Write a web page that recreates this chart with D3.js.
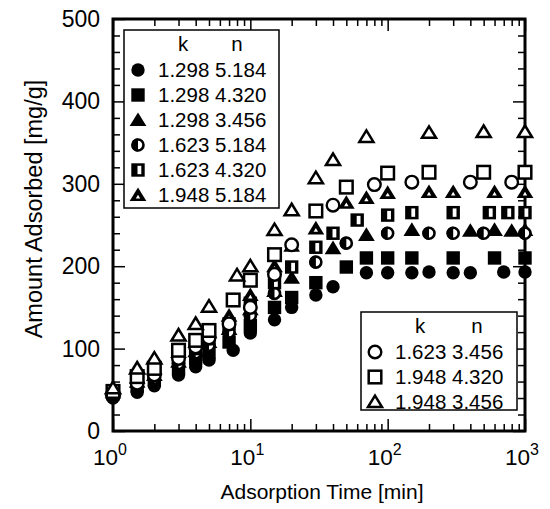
<!DOCTYPE html>
<html>
<head>
<meta charset="utf-8">
<script src="https://cdn.jsdelivr.net/npm/d3@7"></script>
<style>
  body { margin: 0; background: #fff; }
  text { font-family: "Liberation Sans", Arial, Helvetica, sans-serif; fill: #000; }
</style>
</head>
<body>
<div id="chart"></div>
<script>
// Adsorption kinetics - amount adsorbed vs time, 9 (k, n) combinations

// [time (min), amount (mg/g)] per series
const s1 = [[1,40],[1.5,47],[2,55],[3,68],[4,78],[5,86],[7.5,98],[10,119],[15,135],[20,150],[30,165],[40,175],[70,192],[100,192],[150,192],[200,193],[300,192],[400,192],[700,193],[1000,193]];
const s2 = [[1,45],[1.5,55],[2,62],[3,76],[4,88],[5,95],[7,108],[10,128],[15,150],[20,162],[30,180],[50,199],[70,210],[100,210],[150,210],[300,210],[600,210],[1000,210]];
const s3 = [[1,48],[1.5,60],[2,68],[3,84],[4,97],[5,108],[7,124],[10,148],[15,170],[20,186],[40,222],[70,238],[150,244],[400,243],[600,244],[800,243],[1000,244]];
const s4 = [[1,42],[1.5,55],[2,64],[3,82],[4,95],[5,104],[7,120],[10,140],[15,167],[30,205],[50,228],[100,240],[200,240],[300,240],[500,240],[1000,240]];
const s5 = [[1,46],[1.5,60],[2,70],[3,88],[4,100],[5,112],[7,130],[10,155],[15,180],[20,199],[30,223],[40,240],[60,256],[100,262],[150,265],[300,265],[550,265],[750,265],[1000,265]];
const s6 = [[1,50],[1.5,65],[2,76],[3,96],[4,108],[5,120],[7,140],[10,165],[15,200],[20,225],[30,246],[50,277],[70,283],[100,289],[200,290],[300,290],[600,290],[1000,290]];
const s7 = [[1,45],[1.5,58],[2,68],[3,88],[4,102],[5,113],[7,130],[10,150],[15,190],[20,226],[40,274],[80,299],[150,302],[400,302],[800,302]];
const s8 = [[1,48],[1.5,66],[2,76],[3,98],[4,110],[5,122],[7.5,159],[10,183],[15,214],[30,267],[50,296],[100,313],[200,314],[500,314],[1000,314]];
const s9 = [[1,52],[1.5,76],[2,88],[3,116],[4,130],[5,151],[8,189],[10,200],[15,244],[20,268],[30,307],[40,329],[70,357],[200,362],[500,363],[1000,363]];

const seriesData = [s1, s2, s3, s4, s5, s6, s7, s8, s9];
const markers = ["circle", "square", "triangle", "halfCircle", "halfSquare", "thickTriangle", "openCircle", "openSquare", "openTriangle"];
const kValues = ["1.298", "1.298", "1.298", "1.623", "1.623", "1.948", "1.623", "1.948", "1.948"];
const nValues = ["5.184", "4.320", "3.456", "5.184", "4.320", "5.184", "3.456", "4.320", "3.456"];

const yTicks = [0, 100, 200, 300, 400, 500];
const xTicks = [1, 10, 100, 1000];
const xExponents = ["0", "1", "2", "3"];

const width = 550, height = 509;
const plot = { left: 113, right: 525, top: 19, bottom: 431 };

const svg = d3.select("#chart").append("svg")
  .attr("width", width)
  .attr("height", height);

const x = d3.scaleLog().domain([1, 1000]).range([plot.left, plot.right]);
const y = d3.scaleLinear().domain([0, 500]).range([plot.bottom, plot.top]);

// minor tick values
const yMinor = d3.range(0, 501, 20).filter(v => v % 100 !== 0);
const xMinor = [];
[1, 10, 100].forEach(d => d3.range(2, 10).forEach(m => xMinor.push(d * m)));

function cleanAxis(g) {
  g.select(".domain").remove();
  g.selectAll("line").attr("stroke", "#000").attr("stroke-width", 1.5);
}

// ticks, all pointing inward
svg.append("g").attr("transform", `translate(${plot.left},0)`)
  .call(d3.axisLeft(y).tickValues(yTicks).tickSize(-12).tickFormat("")).call(cleanAxis);
svg.append("g").attr("transform", `translate(${plot.left},0)`)
  .call(d3.axisLeft(y).tickValues(yMinor).tickSize(-7).tickFormat("")).call(cleanAxis);
svg.append("g").attr("transform", `translate(${plot.right},0)`)
  .call(d3.axisRight(y).tickValues(yTicks).tickSize(-12).tickFormat("")).call(cleanAxis);
svg.append("g").attr("transform", `translate(${plot.right},0)`)
  .call(d3.axisRight(y).tickValues(yMinor).tickSize(-7).tickFormat("")).call(cleanAxis);
svg.append("g").attr("transform", `translate(0,${plot.bottom})`)
  .call(d3.axisBottom(x).tickValues(xTicks).tickSize(-12).tickFormat("")).call(cleanAxis);
svg.append("g").attr("transform", `translate(0,${plot.bottom})`)
  .call(d3.axisBottom(x).tickValues(xMinor).tickSize(-7).tickFormat("")).call(cleanAxis);
svg.append("g").attr("transform", `translate(0,${plot.top})`)
  .call(d3.axisTop(x).tickValues(xTicks).tickSize(-12).tickFormat("")).call(cleanAxis);
svg.append("g").attr("transform", `translate(0,${plot.top})`)
  .call(d3.axisTop(x).tickValues(xMinor).tickSize(-7).tickFormat("")).call(cleanAxis);

// frame
svg.append("rect")
  .attr("x", plot.left).attr("y", plot.top)
  .attr("width", plot.right - plot.left).attr("height", plot.bottom - plot.top)
  .attr("fill", "none").attr("stroke", "#000").attr("stroke-width", 3);

// tick labels
svg.append("g").selectAll("text")
  .data(yTicks)
  .join("text")
  .attr("x", plot.left - 13)
  .attr("y", d => y(d) + 8)
  .attr("text-anchor", "end")
  .style("font-size", "23px")
  .text(d => d);

const xl = svg.append("g").selectAll("text")
  .data(xTicks)
  .join("text")
  .attr("x", d => x(d) - 3)
  .attr("y", 465)
  .attr("text-anchor", "middle")
  .style("font-size", "22.5px");
xl.append("tspan").text("10");
xl.append("tspan").attr("dy", -10).style("font-size", "16px").text((d, i) => xExponents[i]);

// axis titles
svg.append("text")
  .attr("x", (plot.left + plot.right) / 2 + 3)
  .attr("y", 499)
  .attr("text-anchor", "middle")
  .style("font-size", "21px")
  .text("Adsorption Time [min]");

svg.append("text")
  .attr("transform", "translate(42,209) rotate(-90)")
  .attr("text-anchor", "middle")
  .style("font-size", "23.5px")
  .text("Amount Adsorbed [mg/g]");

// marker drawing
function drawMarker(g, kind) {
  const r = 6.7, s = 6.7;
  const tri = (h) => `M0,${-h} L${h * 1.1},${h * 0.8} L${-h * 1.1},${h * 0.8} Z`;
  switch (kind) {
    case "circle":
      g.append("circle").attr("r", r).attr("fill", "#000");
      break;
    case "square":
      g.append("rect").attr("x", -s).attr("y", -s).attr("width", 2 * s).attr("height", 2 * s).attr("fill", "#000");
      break;
    case "triangle":
      g.append("path").attr("d", tri(7.6)).attr("fill", "#000");
      break;
    case "halfCircle":
      g.append("circle").attr("r", r - 1.2).attr("fill", "#fff").attr("stroke", "#000").attr("stroke-width", 2.6);
      g.append("path").attr("d", d3.arc()({ innerRadius: 0, outerRadius: r, startAngle: Math.PI, endAngle: 2 * Math.PI })).attr("fill", "#000");
      break;
    case "halfSquare":
      g.append("rect").attr("x", -s).attr("y", -s).attr("width", 2 * s).attr("height", 2 * s).attr("fill", "#000");
      g.append("rect").attr("x", -0.5).attr("y", -4.2).attr("width", 3.8).attr("height", 8.4).attr("fill", "#fff");
      break;
    case "thickTriangle":
      g.append("path").attr("d", tri(7.6)).attr("fill", "#000");
      g.append("path").attr("d", tri(2.0)).attr("transform", "translate(0,1.8)").attr("fill", "#fff");
      break;
    case "openCircle":
      g.append("circle").attr("r", 6.3).attr("fill", "#fff").attr("stroke", "#000").attr("stroke-width", 2.4);
      break;
    case "openSquare":
      g.append("rect").attr("x", -6.3).attr("y", -6.3).attr("width", 12.6).attr("height", 12.6)
        .attr("fill", "#fff").attr("stroke", "#000").attr("stroke-width", 2.5);
      break;
    case "openTriangle":
      g.append("path").attr("d", tri(6.4)).attr("fill", "#fff").attr("stroke", "#000").attr("stroke-width", 2.5);
      break;
  }
}

// data points
seriesData.forEach((data, i) => {
  svg.append("g").selectAll("g")
    .data(data)
    .join("g")
    .attr("transform", d => `translate(${x(d[0])},${y(d[1])})`)
    .each(function () { drawMarker(d3.select(this), markers[i]); });
});

// legends
function legend(ix, box, hx) {
  const g = svg.append("g");
  g.append("rect")
    .attr("x", box.x).attr("y", box.y).attr("width", box.w).attr("height", box.h)
    .attr("fill", "#fff").attr("stroke", "#000").attr("stroke-width", 1.5);
  g.append("text").attr("x", hx[0]).attr("y", box.y + 21).attr("text-anchor", "middle").style("font-size", "20.5px").text("k");
  g.append("text").attr("x", hx[1]).attr("y", box.y + 21).attr("text-anchor", "middle").style("font-size", "20.5px").text("n");
  ix.forEach((si, j) => {
    const cy = box.y + 40 + j * 25;
    const mg = g.append("g").attr("transform", `translate(${box.x + 14},${cy})`);
    drawMarker(mg, markers[si]);
    g.append("text")
      .attr("x", box.x + 34).attr("y", cy + 7)
      .style("font-size", "20.5px")
      .text(`${kValues[si]} ${nValues[si]}`);
  });
}

legend([0, 1, 2, 3, 4, 5], { x: 124, y: 30, w: 155, h: 178 }, [183, 237]);
legend([6, 7, 8], { x: 361, y: 312, w: 156, h: 98 }, [420, 477]);
</script>
</body>
</html>
